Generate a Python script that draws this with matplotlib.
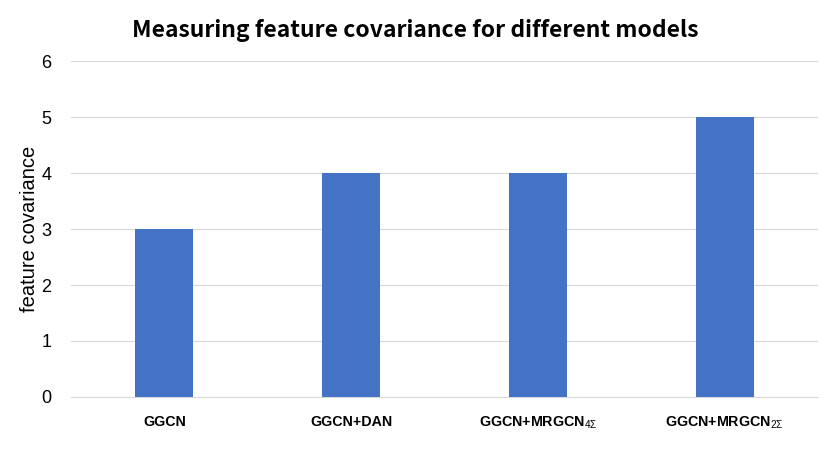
import matplotlib.pyplot as plt

# data
models = ['GGCN', 'GGCN+DAN', r'GGCN+MRGCN$_{4\Sigma}$', r'GGCN+MRGCN$_{2\Sigma}$']
covariance = [3, 4, 4, 5]
yticks = [0, 1, 2, 3, 4, 5, 6]

plt.rcParams['font.family'] = ['Liberation Sans', 'DejaVu Sans']
plt.rcParams['mathtext.fontset'] = 'custom'
plt.rcParams['mathtext.rm'] = 'Liberation Sans'
plt.rcParams['mathtext.it'] = 'Liberation Sans'
plt.rcParams['mathtext.bf'] = 'Liberation Sans:bold'

fig = plt.figure(figsize=(8.3, 4.67), dpi=100)
ax = fig.add_axes([0.0855, 0.15, 0.9, 0.719])

x = range(len(models))
ax.bar(x, covariance, width=0.31, color='#4472C4', zorder=3)

ax.set_xlim(-0.5, 3.5)
ax.set_ylim(0, 6)
ax.set_yticks(yticks)
ax.set_xticks(list(x))
ax.set_xticklabels(models, fontsize=10.3, fontweight='bold')
ax.tick_params(axis='y', labelsize=13, length=0, pad=14)
ax.tick_params(axis='x', length=0, pad=13)
ax.grid(axis='y', color='#D9D9D9', linewidth=0.8, zorder=0)
for s in ['top', 'right', 'left']:
    ax.spines[s].set_visible(False)
ax.spines['bottom'].set_color('#D9D9D9')

ax.set_ylabel('feature covariance', fontsize=14.5, labelpad=2)
fig.suptitle('Measuring feature covariance for different models', fontsize=16.5,
             fontweight='bold', y=0.96, family=['Noto Sans CJK SC', 'DejaVu Sans'])

fig.savefig('out.png', dpi=100)
